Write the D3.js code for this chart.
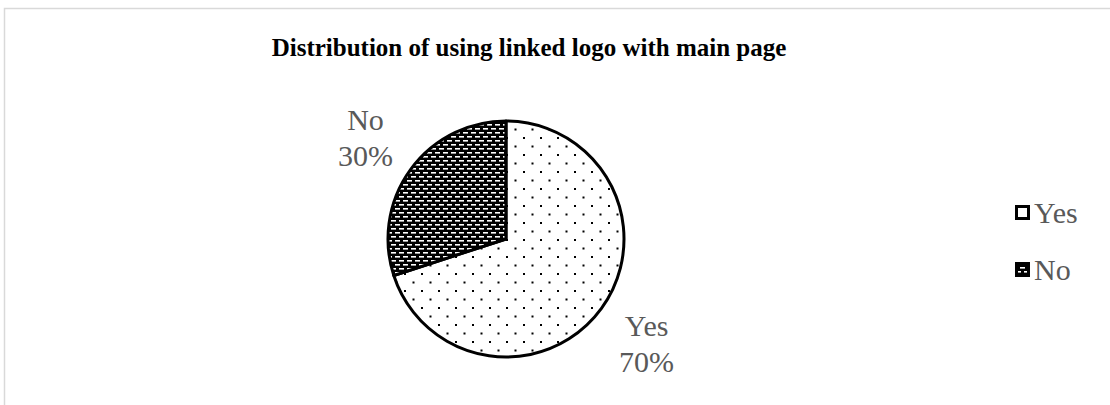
<!DOCTYPE html>
<html>
<head>
<meta charset="utf-8">
<script src="https://cdn.jsdelivr.net/npm/d3@7"></script>
<style>
  html, body { margin: 0; padding: 0; background: #fff; }
  svg { display: block; }
</style>
</head>
<body>
<svg id="chart" width="1110" height="405"></svg>
<script>
// Survey answers: is the logo linked to the main page?
const categories = ["Yes", "No"];
const values = [70, 30];
const labelText = ["70%", "30%"];
const titleText = "Distribution of using linked logo with main page";

const width = 1110, height = 405;
const svg = d3.select("#chart");
const textColor = "#595959";
const serif = "'Liberation Serif', 'Times New Roman', serif";

// Fill patterns: sparse dots for Yes, white dashes on black for No
const defs = svg.append("defs");
const dots = defs.append("pattern")
  .attr("id", "pat-yes").attr("patternUnits", "userSpaceOnUse")
  .attr("width", 17).attr("height", 17);
dots.append("rect").attr("width", 17).attr("height", 17).attr("fill", "#fff");
dots.append("rect").attr("x", 0).attr("y", 0).attr("width", 2).attr("height", 2).attr("fill", "#000");
dots.append("rect").attr("x", 8.5).attr("y", 8.5).attr("width", 2).attr("height", 2).attr("fill", "#000");

const dash = defs.append("pattern")
  .attr("id", "pat-no").attr("patternUnits", "userSpaceOnUse")
  .attr("width", 8).attr("height", 8);
dash.append("rect").attr("width", 8).attr("height", 8).attr("fill", "#000");
dash.append("rect").attr("x", 1).attr("y", 1).attr("width", 5).attr("height", 1.6).attr("fill", "#fff");
dash.append("rect").attr("x", 5).attr("y", 5).attr("width", 5).attr("height", 1.6).attr("fill", "#fff");
dash.append("rect").attr("x", -3).attr("y", 5).attr("width", 5).attr("height", 1.6).attr("fill", "#fff");

const fills = d3.scaleOrdinal().domain(categories).range(["url(#pat-yes)", "url(#pat-no)"]);

// Chart-area frame
svg.append("path")
  .attr("d", `M4.5,${height + 5} V8.5 H${width + 5}`)
  .attr("fill", "none").attr("stroke", "#d9d9d9").attr("stroke-width", 1.5);

// Title
svg.append("text")
  .attr("x", 529).attr("y", 56)
  .attr("text-anchor", "middle")
  .attr("font-family", serif).attr("font-weight", "bold")
  .attr("font-size", 25).attr("fill", "#000")
  .text(titleText);

// Pie
const cx = 506, cy = 239, r = 118;
const data = categories.map((c, i) => ({ cat: c, value: values[i], label: labelText[i] }));
const pie = d3.pie().value(d => d.value).sort(null);
const arcs = pie(data);
const arc = d3.arc().innerRadius(0).outerRadius(r);

const g = svg.append("g").attr("transform", `translate(${cx},${cy})`);
g.selectAll("path.slice").data(arcs).join("path")
  .attr("class", "slice")
  .attr("d", arc)
  .attr("fill", d => fills(d.data.cat))
  .attr("stroke", "#000").attr("stroke-width", 3)
  .attr("stroke-linejoin", "round");

// Outside-end data labels (category + percentage)
const labelArc = d3.arc().innerRadius(r + 10).outerRadius(r + 10);
const fs = 30, lh = 36;
arcs.forEach(d => {
  const [px, py] = labelArc.centroid(d);
  const w = 74, h = 55;
  const bx = px + (px >= 0 ? w / 2 : -w / 2);
  const by = py + (py >= 0 ? h / 2 : -h / 2);
  const t = g.append("text")
    .attr("text-anchor", "middle")
    .attr("font-family", serif).attr("font-size", fs).attr("fill", textColor);
  t.append("tspan").attr("x", bx).attr("y", by - 6).text(d.data.cat);
  t.append("tspan").attr("x", bx).attr("y", by - 6 + lh).text(d.data.label);
});

// Legend
const legend = svg.append("g");
const ly = d3.scalePoint().domain(categories).range([213, 270]);
const items = legend.selectAll("g").data(categories).join("g")
  .attr("transform", d => `translate(1015,${ly(d)})`);
items.append("rect")
  .attr("x", 1.5).attr("y", -6.5).attr("width", 12).attr("height", 12)
  .attr("fill", d => fills(d)).attr("stroke", "#000").attr("stroke-width", 3);
items.append("text")
  .attr("x", 19).attr("y", 10)
  .attr("font-family", serif).attr("font-size", 30).attr("fill", textColor)
  .text(d => d);
</script>
</body>
</html>
